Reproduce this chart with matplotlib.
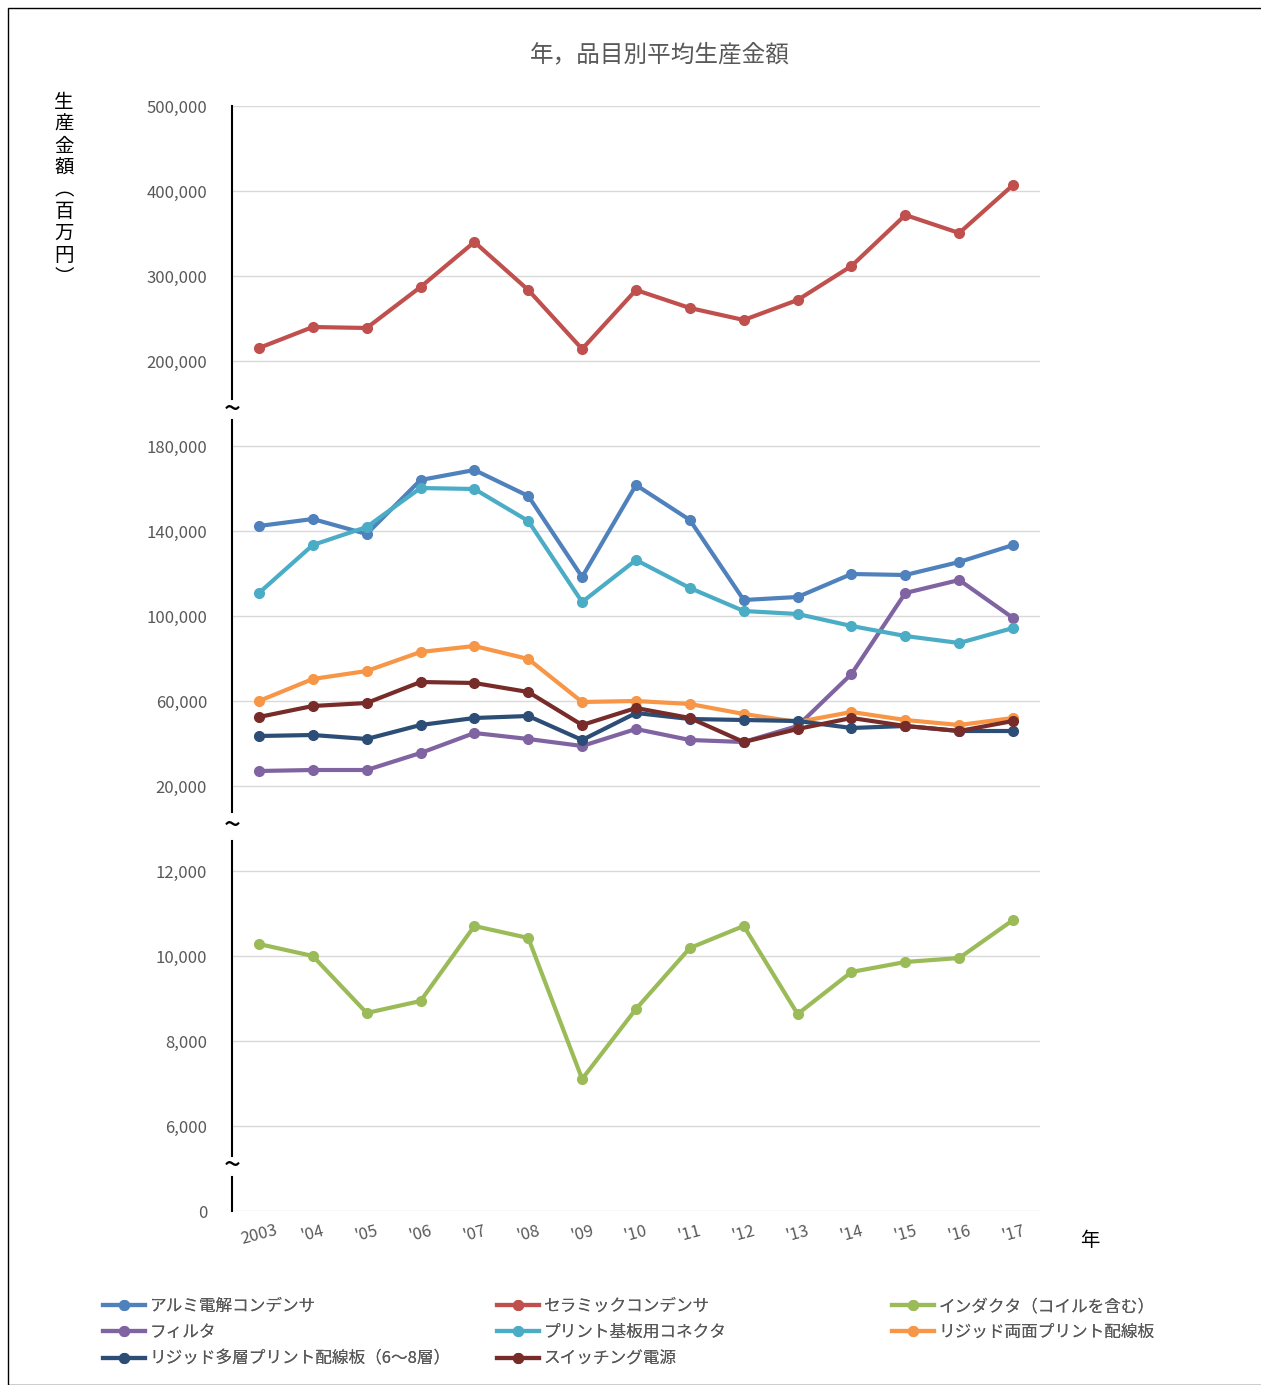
import numpy as np
import matplotlib.pyplot as plt
from matplotlib.patches import Rectangle

plt.rcParams['font.family'] = ['Noto Sans CJK JP', 'DejaVu Sans']

years = ['2003', "'04", "'05", "'06", "'07", "'08", "'09", "'10", "'11", "'12", "'13", "'14", "'15", "'16", "'17"]
tick_vals = [0, 6000, 8000, 10000, 12000, 20000, 60000, 100000, 140000, 180000,
             200000, 300000, 400000, 500000]

alumi = [142353, 145647, 138588, 164000, 168706, 156471, 118353, 161647, 145176, 107529, 108941, 119765, 119294, 125412, 133412]
ceramic = [215294, 240000, 238824, 287059, 340000, 283529, 214118, 283529, 262353, 248235, 271765, 311765, 371765, 350588, 407059]
inductor = [10282, 10000, 8659, 8941, 10706, 10424, 7106, 8753, 10188, 10706, 8635, 9624, 9859, 9953, 10847]
filt = [27059, 27529, 27529, 35529, 44941, 42118, 38824, 46824, 41647, 40706, 48235, 72706, 110824, 116941, 99059]
connector = [110824, 133412, 141882, 160235, 159765, 144706, 106588, 126353, 113176, 102353, 100941, 95294, 90588, 87294, 94353]
rigid2 = [60000, 70353, 74118, 83059, 85882, 79765, 59529, 60000, 58588, 53882, 50118, 54824, 51059, 48706, 52000]
multi = [43529, 44000, 42118, 48706, 52000, 52941, 41647, 54353, 51529, 51059, 50588, 47294, 48235, 45882, 45882]
switching = [52471, 57647, 59059, 68941, 68471, 64235, 48706, 56706, 52000, 40706, 46824, 52000, 48235, 45882, 50588]

series = [
    ('アルミ電解コンデンサ', alumi, '#4f81bd'),
    ('セラミックコンデンサ', ceramic, '#c0504d'),
    ('インダクタ（コイルを含む）', inductor, '#9bbb59'),
    ('フィルタ', filt, '#8064a2'),
    ('プリント基板用コネクタ', connector, '#4bacc6'),
    ('リジッド両面プリント配線板', rigid2, '#f79646'),
    ('リジッド多層プリント配線板（6～8層）', multi, '#2c4d75'),
    ('スイッチング電源', switching, '#772c2a'),
]

idx = np.arange(len(tick_vals), dtype=float)
tv = np.array(tick_vals, dtype=float)
fwd = lambda v: np.interp(v, tv, idx)
inv = lambda i: np.interp(i, idx, tv)

fig = plt.figure(figsize=(12.61, 13.85), dpi=100)
ax = fig.add_axes([232/1261, 1-1211/1385, (1040-232)/1261, (1211-106)/1385])
ax.set_yscale('function', functions=(fwd, inv))
ax.set_ylim(0, 500000)
ax.set_xlim(-0.5, 14.5)

x = np.arange(len(years))
lines = []
for name, vals, c in series:
    ln, = ax.plot(x, vals, color=c, lw=3, marker='o', ms=7, label=name, zorder=3)
    lines.append(ln)

ax.set_yticks(tick_vals)
ax.set_yticklabels([f'{v:,}' for v in tick_vals], fontsize=12, color='#595959')
ax.tick_params(axis='y', length=0, pad=18)
ax.set_xticks(x)
ax.set_xticklabels(years, rotation=15, fontsize=12, color='#595959')
ax.tick_params(axis='x', length=0, pad=8)
ax.grid(axis='y', color='#d9d9d9', lw=1)
for sp in ax.spines.values():
    sp.set_visible(False)

# broken left axis
tr = ax.get_yaxis_transform()
for a, b in [(0, 0.4), (0.65, 4.35), (4.7, 9.3), (9.55, 13)]:
    ax.plot([0, 0], [inv(a), inv(b)], color='black', lw=1.5, transform=tr, clip_on=False)
for m in [0.52, 4.52, 9.42]:
    ax.text(0, inv(m), '~', transform=tr, ha='center', va='center', fontsize=22, clip_on=False)

fig.text(660/1261, 1-55/1385, '年，品目別平均生産金額', ha='center', va='center',
         fontsize=17, color='#595959')
fig.text(1090/1261, 1-1240/1385, '年', ha='center', va='center', fontsize=14)
fig.text(64/1261, 1-190/1385, '生\n産\n金\n額\n︵\n百\n万\n円\n︶', ha='center', va='center',
         fontsize=14, linespacing=1.05)

# legend: three columns at fixed positions, filled row by row
for col, x0 in enumerate([88, 482, 877]):
    items = list(range(col, len(series), 3))
    leg = fig.legend([lines[i] for i in items], [series[i][0] for i in items],
                     loc='upper left', bbox_to_anchor=(x0/1261, 1-1283/1385),
                     frameon=False, fontsize=12, labelcolor='#595959', handlelength=2.5,
                     handletextpad=0.3, labelspacing=0.55)
    fig.add_artist(leg)

fig.patches.append(Rectangle((8/1261, 0), 1.0, 1-8/1385, transform=fig.transFigure,
                             fill=False, edgecolor='black', lw=1))

fig.savefig('out.png', dpi=100)
